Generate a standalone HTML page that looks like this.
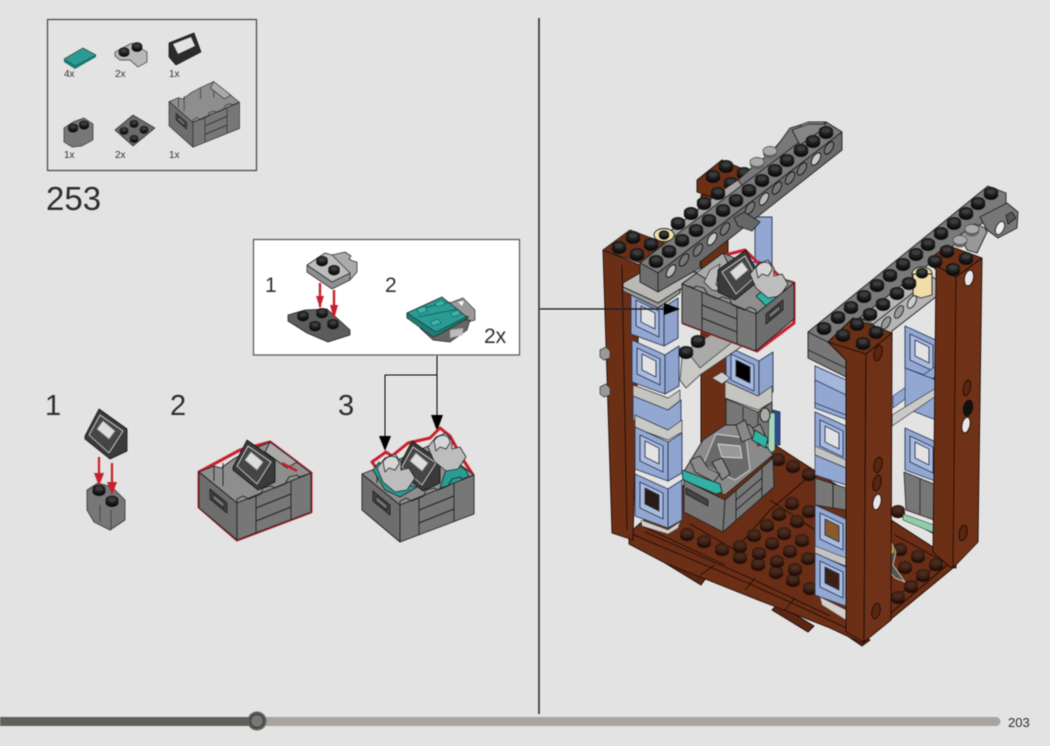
<!DOCTYPE html>
<html><head><meta charset="utf-8"><style>
html,body{margin:0;padding:0;background:#e3e3e3}
svg{display:block;font-family:"Liberation Sans",sans-serif;filter:blur(.45px)}
text{fill:#2d2d2d}
.t{font-size:10px;fill:#333}
.n{font-size:29px;font-weight:400}
.m{font-size:21px}
</style></head><body>
<svg width="1050" height="746" viewBox="0 0 1050 746" xmlns="http://www.w3.org/2000/svg" stroke-linejoin="round">
<defs>
<g id="st"><ellipse cy="2.5" rx="7.2" ry="5.4" fill="#0d0d0d"/><ellipse rx="7.2" ry="5" fill="#1d1d1d"/><ellipse cy="-.5" rx="4.5" ry="2.8" fill="#3a3a3a"/></g>
<g id="bs"><ellipse cy="3" rx="7" ry="5.2" fill="#241008"/><ellipse rx="7" ry="5" fill="#3a1f14"/><ellipse cy="-.5" rx="4.5" ry="2.8" fill="#4a2a1d"/></g>
<g id="ls"><ellipse cy="2.5" rx="7" ry="5" fill="#666"/><ellipse rx="7" ry="4.6" fill="#aaa" stroke="#444" stroke-width=".7"/></g>
<g id="bw" stroke="#2b3550" stroke-width=".9">
<path d="M0 0L33 15V54L0 42Z" fill="#92a8d2"/><path d="M33 15L47 6V46L33 54Z" fill="#8ea4cf"/>
<path d="M5 8L28 19V45L5 34Z" fill="#a9bce0"/><path d="M10 14L24 21V37L10 30Z" fill="currentColor"/>
</g>
<g id="cb" stroke="#222" stroke-width=".9">
<path d="M0 0L15-6 22-4 36-14 50-21 71-30 112 1 38 31Z" fill="#8e8e8e"/>
<path d="M15-6V9M24-9V14M50-21V-4M71-30V-6" fill="none"/>
<path d="M71-30L98-10 88-4 66-20Z" fill="#aaa"/>
</g>
<g id="cf" stroke="#222" stroke-width=".9">
<path d="M0 0L38 31V68L0 36Z" fill="#6d6d6d"/>
<path d="M38 31L112 1V40L38 68Z" fill="#777"/>
<path d="M57 23V61M92 9V47.5" fill="none"/>
<path d="M57 36L92 22M57 49L92 35" fill="none" stroke-width="1.1"/>
<path d="M38 31V27L44 24 50 27 62 22 64 16 72 14 76 16 86 12 90 5 98 3 100 5 112 1" fill="none"/>
<path d="M11 17L28 31V41L11 27Z" fill="#444"/><path d="M14 22L25 31V36L14 27Z" fill="#777"/>
</g>
<g id="hinge" stroke="#222" stroke-width=".8">
<path d="M0 10L8 0 18 -4 24 4 24 12 32 10 38 20 30 32 18 34 6 24Z" fill="#bdbdbd"/>
<path d="M6 4C10-4 22-4 22 6L18 12 12 10 8 14Z" fill="#d6d6d6"/>
</g>
<g id="slope" stroke="#111" stroke-width=".8">
<path d="M0 27L14 0 42 20V42L25 50 0 30Z" fill="#3a3a3a"/>
<path d="M4 26L15 6 38 22 24 44Z" fill="#454545" stroke="#ddd"/>
<path d="M12 20L18 12 30 22 24 30Z" fill="#ddd" stroke="#999"/>
</g>
</defs>
<rect width="1050" height="746" fill="#e3e3e3"/>

<!-- parts box -->
<rect x="47.5" y="19.5" width="209" height="151" fill="none" stroke="#444" stroke-width="1.2"/>
<path d="M64 59L83 48 96 55 75 66Z" fill="#2a9c94" stroke="#222" stroke-width=".6"/><path d="M64 59L75 66 96 55V57L75 69 64 62Z" fill="#1a7a73"/>
<path d="M115 52L132 43 147 52V62L138 67 130 60 120 60 115 56Z" fill="#b8b8b8" stroke="#333" stroke-width=".7"/>
<use href="#st" transform="translate(124 51) scale(.75)"/><use href="#st" transform="translate(137 46) scale(.75)"/>
<path d="M169 43L194 33 201 52 176 65 169 57Z" fill="#2b2b2b" stroke="#111" stroke-width=".7"/><path d="M173 44L191 37 195 46 178 54Z" fill="#e3e3e3"/>
<text class="t" x="64" y="77">4x</text><text class="t" x="115" y="77">2x</text><text class="t" x="169" y="77">1x</text>
<path d="M64 128L73 122 84 118 93 124V140L82 146 72 147 64 142Z" fill="#777" stroke="#333" stroke-width=".7"/>
<use href="#st" transform="translate(73 127) scale(.7)"/><use href="#st" transform="translate(84 124) scale(.7)"/>
<path d="M115 130L133 115 155 128 133 146Z" fill="#6a6a6a" stroke="#222" stroke-width=".7"/>
<use href="#st" transform="translate(124 130) scale(.6)"/><use href="#st" transform="translate(134 123) scale(.6)"/><use href="#st" transform="translate(134 138) scale(.6)"/><use href="#st" transform="translate(144 129) scale(.6)"/>
<g transform="translate(169 103) scale(.63 .67) translate(0 -2)"><use href="#cb"/><use href="#cf"/></g>
<text class="t" x="64" y="158">1x</text><text class="t" x="115" y="158">2x</text><text class="t" x="169" y="158">1x</text>
<text x="46" y="210" font-size="33">253</text>

<!-- callout -->
<rect x="253.5" y="239.5" width="266" height="115.5" fill="#fff" stroke="#555" stroke-width="1.2"/>
<text class="m" x="265" y="292" font-size="20">1</text><text class="m" x="385" y="292">2</text><text class="m" x="484" y="343">2x</text>
<path d="M288 315L305 310 327 309 350 330V335L328 342 307 333 288 321Z" fill="#5c5c5c" stroke="#222" stroke-width=".8"/>
<use href="#st" transform="translate(303 315) scale(.8)"/><use href="#st" transform="translate(322 312) scale(.8)"/><use href="#st" transform="translate(315 325) scale(.8)"/><use href="#st" transform="translate(333 323) scale(.8)"/>
<path d="M332 255L345 252 351 256 349 259 353 261 357 262V272L350 280 340 278Z" fill="#aaa" stroke="#333" stroke-width=".8"/>
<path d="M307 265V272L332 289 350 280V273L332 282Z" fill="#8f8f8f" stroke="#333" stroke-width=".8"/>
<path d="M307 265L325 253 332 255 350 273 332 282Z" fill="#bdbdbd" stroke="#333" stroke-width=".8"/>
<use href="#st" transform="translate(322 260) scale(.8)"/><use href="#st" transform="translate(334 269) scale(.8)"/>
<path d="M320 283V307M334 290V317" stroke="#c8202c" stroke-width="2.4"/><path d="M316 296H324L320 308ZM330 305H338L334 319Z" fill="#c8202c"/>
<path d="M450 303L463 298 475 310V320L468 322 455 312Z" fill="#999" stroke="#333" stroke-width=".7"/><path d="M458 302L464 301 462 306Z" fill="#fff"/>
<path d="M420 328L433 340 450 342 467 330 470 320 440 320Z" fill="#666" stroke="#222" stroke-width=".7"/><path d="M450 330L463 328V335L450 338Z" fill="#bbb"/>
<path d="M407 313L442 297 468 318 438 335 407 318Z" fill="#2a9c94" stroke="#222" stroke-width=".8"/>
<path d="M407 318L433 337 438 335 468 318V316L436 332 407 313Z" fill="#1d7d76" stroke="#222" stroke-width=".6"/>
<path d="M422 308L450 302M418 317L458 309" stroke="#155" stroke-width=".8" fill="none"/>
<path d="M417 309L425 306 427 311 419 314ZM435 303L443 300 445 304 437 307ZM430 322L438 319 441 323 433 326ZM450 313L458 310 461 314 453 317Z" fill="#3bb5a9" stroke="#155" stroke-width=".6"/>

<!-- connector arrows -->
<g fill="none">
<path d="M437 355V375M437 375H385V440M437 375V418" stroke="#fff" stroke-width="3"/>
<path d="M437 355V375M437 375H385V440M437 375V418" stroke="#111" stroke-width="1.3"/>
</g>
<path d="M379 436H391L385 451ZM431 415H443L437 431Z" fill="#000"/>

<!-- steps -->
<text class="n" x="45" y="415">1</text><text class="n" x="170" y="415">2</text><text class="n" x="338" y="415">3</text>
<path d="M87 490L98 483 112 487 125 500V520L110 530 94 522 87 510Z" fill="#777" stroke="#333" stroke-width=".8"/>
<path d="M100 505V522M111 510V530" stroke="#333" stroke-width=".7"/>
<use href="#st" transform="translate(99 489) scale(.9)"/><use href="#st" transform="translate(112 500) scale(.9)"/>
<use href="#slope" x="85" y="409"/>
<path d="M99 457V476M112 463V485" stroke="#c8202c" stroke-width="2.2"/><path d="M94 473H104L99 486ZM107 482H117L112 495Z" fill="#c8202c"/>

<g id="c2">
<path d="M199 472L240 450 270 442 311 473V512L237 540 199 507Z" fill="none" stroke="#c8202c" stroke-width="3"/>
<g transform="translate(199 472)"><use href="#cb"/></g>
<use href="#slope" x="233" y="440"/>
<g transform="translate(199 472)"><use href="#cf"/></g>
<path d="M282 463L297 471" stroke="#c8202c" stroke-width="2.5"/>
</g>
<g>
<path d="M372 462L386 452 392 456 408 443 430 438 440 428 450 436 462 458 473 475 400 500Z" fill="none" stroke="#c8202c" stroke-width="3"/>
<g transform="translate(362 474)"><use href="#cb"/></g>
<path d="M373 470L379 462 400 484 417 487 400 497 385 490Z" fill="#2a9c94" stroke="#222" stroke-width=".8"/>
<use href="#slope" x="398" y="441"/>
<path d="M448 460L466 470 470 480 440 488 446 470Z" fill="#2a9c94" stroke="#222" stroke-width=".8"/>
<use href="#hinge" x="377" y="458"/><use href="#hinge" x="428" y="437"/>
<g transform="translate(362 474)"><use href="#cf"/></g>
</g>

<!-- main divider -->
<path d="M539 18V714" stroke="#222" stroke-width="1.5"/>
<rect x="540" y="308" width="126" height="3" fill="#fff" opacity=".8"/>

<!-- floor -->
<g stroke="#1e0c05" stroke-width=".9">
<path d="M665 563L701 585 706 578 670 558ZM772 610L808 632 814 626 778 604ZM846 635L862 646 870 640 852 628Z" fill="#5a2611"/>
<path d="M629 533V544L665 563 753 598 830 628 862 643 953 568V560L862 630 750 580Z" fill="#6b2f16"/>
<path d="M629 533L701 470 775 445 953 560 864 636 750 584Z" fill="#6a2e16"/>
<path d="M645 532L750 578 830 616M640 525L725 565M690 524L735 550 770 510 805 480M770 500L815 530M715 565L700 575M755 578L745 590M795 598L785 610" fill="none"/>
<path d="M892 600L950 555M895 535L950 565M890 510L936 535" fill="none"/>
</g>
<g id="floor-studs">
<use href="#bs" x="687" y="533"/><use href="#bs" x="704" y="540"/><use href="#bs" x="722" y="548"/><use href="#bs" x="740" y="556"/><use href="#bs" x="758" y="563"/><use href="#bs" x="776" y="571"/><use href="#bs" x="793" y="579"/><use href="#bs" x="810" y="587"/>
<use href="#bs" x="740" y="545"/><use href="#bs" x="754" y="534"/><use href="#bs" x="767" y="524"/><use href="#bs" x="779" y="513"/><use href="#bs" x="792" y="502"/>
<use href="#bs" x="759" y="552"/><use href="#bs" x="772" y="542"/><use href="#bs" x="784" y="532"/><use href="#bs" x="797" y="520"/><use href="#bs" x="809" y="510"/>
<use href="#bs" x="777" y="560"/><use href="#bs" x="790" y="550"/><use href="#bs" x="802" y="539"/>
<use href="#bs" x="795" y="568"/><use href="#bs" x="808" y="557"/>
<use href="#bs" x="778" y="458"/><use href="#bs" x="793" y="465"/><use href="#bs" x="809" y="473"/>
<use href="#bs" x="898" y="510"/><use href="#bs" x="900" y="548"/><use href="#bs" x="918" y="555"/><use href="#bs" x="936" y="563"/><use href="#bs" x="905" y="566"/><use href="#bs" x="923" y="574"/><use href="#bs" x="911" y="585"/><use href="#bs" x="898" y="596"/>
</g>
<path d="M890 540L896 552 893 565 905 582 895 578 888 570Z" fill="#555" stroke="#ddd" stroke-width=".7"/><path d="M890 538L894 552 889 556Z" fill="#e9a92c"/>

<!-- rear-centre column -->
<g stroke="#1e0c05" stroke-width=".9">
<path d="M701 195H728V470L701 450Z" fill="#6b2f16"/>
<path d="M697 180L722 160 757 175 733 193 733 205 697 192Z" fill="#6b2f16"/>
</g>
<use href="#st" x="713" y="175"/><use href="#st" x="726" y="165"/><use href="#st" x="731" y="182"/><use href="#st" x="744" y="172"/>
<path d="M755 217H772V265H755Z" fill="#92a8d2" stroke="#2b3550" stroke-width=".9"/>
<path d="M738 262H760V285H738Z" fill="#92a8d2" stroke="#2b3550" stroke-width=".9"/>
<use href="#bw" x="726" y="346"/>
<path d="M725 381L758 396 772 386V402L758 410 725 398Z" fill="#c4c4c0" stroke="#333" stroke-width=".7"/>
<path d="M726 399L758 412 772 402V440L758 450 726 436Z" fill="#777" stroke="#222" stroke-width=".9"/><path d="M743 407V444M758 412V450" stroke="#222" stroke-width=".8"/>
<path d="M773 410L780 412V445L773 445Z" fill="#2f4b93" stroke="#15233f" stroke-width=".7"/>
<path d="M769 413H775V450L768 455Z" fill="#9fd8ba" stroke="#333" stroke-width=".6"/>
<ellipse cx="765" cy="415" rx="5" ry="7" fill="#aaa" stroke="#222"/>

<!-- left column back brown -->
<path d="M603 250L640 265 633 540 612 533Z" fill="#6b2f16" stroke="#1e0c05" stroke-width=".9"/>
<path d="M622 265L627 530" stroke="#1e0c05" stroke-width=".9"/>
<g fill="#999" stroke="#333" stroke-width=".7"><path d="M600 350L606 347 610 351V358L604 360 600 357Z"/><path d="M600 387L606 384 610 388V395L604 397 600 394Z"/></g>

<!-- lower crate -->
<g stroke="#222" stroke-width=".9">
<path d="M683 473L703 440 725 425 750 425 773 455 725 495Z" fill="#8a8a8a"/>
<path d="M703 465L716 434 746 438 750 470 735 480Z" fill="#6a6a6a" stroke="#ddd"/>
<path d="M718 444L740 446 742 458 722 457Z" fill="#999" stroke="#ddd"/>
<path d="M736 425L745 420 752 438 742 442ZM753 428L760 424 768 442 758 446Z" fill="#888"/>
<path d="M690 460L700 456 708 468 720 474 714 482 695 472ZM712 462L722 458 730 474 722 480Z" fill="#8a8a8a"/>
<path d="M682 470L720 484 722 492 716 494 683 480Z" fill="#2fb2a4"/>
<path d="M755 430L768 438 766 448 752 440Z" fill="#2fb2a4"/>
<path d="M684 480L725 500 723 532 684 512Z" fill="#777"/>
<path d="M725 500L773 458 774 487 723 532Z" fill="#777"/>
<path d="M686 488L708 500V506L686 494Z" fill="#444"/><path d="M736 490V521M762 468V497M736 500L762 478M736 510L762 488" fill="none"/>
</g>

<!-- left blue column -->
<g color="#e3e3e3"><use href="#bw" x="631" y="292"/><use href="#bw" x="632" y="340"/></g>
<path d="M682 358L745 335 748 342 722 360 700 375 686 388 680 380Z" fill="#c9c9c6" stroke="#333" stroke-width=".8"/>
<path d="M686 350L722 328 740 336 700 368Z" fill="#aaa" stroke="#333" stroke-width=".7"/>
<use href="#st" x="698" y="340"/><use href="#st" x="686" y="351"/>
<path d="M712 378L722 372 730 378 722 384Z" fill="#ccc" stroke="#333" stroke-width=".7"/>
<path d="M633 385L668 398 680 390V404L668 412 633 398Z" fill="#c4c4c0" stroke="#333" stroke-width=".7"/>
<path d="M633 396L668 410 681 400V424L668 434 633 420Z" fill="#92a8d2" stroke="#2b3550" stroke-width=".9"/>
<path d="M635 415L668 430 682 420V432L668 440 635 428Z" fill="#c9c9c6" stroke="#333" stroke-width=".7"/>
<use href="#bw" x="635" y="427" color="#e3e3e3"/>
<use href="#bw" x="635" y="474" color="#2a1a14"/>
<path d="M641 520L668 530 680 522 678 528 668 534 642 526Z" fill="#cfcfcb" stroke="#555" stroke-width=".5"/>

<!-- right rear blue -->
<g color="#e3e3e3"><use href="#bw" x="905" y="326"/><use href="#bw" x="905" y="428"/></g>
<path d="M893 396L936 366V376L893 408Z" fill="#92a8d2" stroke="#2b3550" stroke-width=".7"/>
<path d="M905 368L936 380V420L905 408Z" fill="#92a8d2" stroke="#2b3550" stroke-width=".7"/>
<path d="M892 415L936 388V396L892 426Z" fill="#c9c9c6" stroke="#333" stroke-width=".7"/>
<path d="M904 472L934 484V520L906 510Z" fill="#777" stroke="#222" stroke-width=".8"/><path d="M920 478V515" stroke="#222" stroke-width=".8"/>
<path d="M903 514L934 525V533L903 520Z" fill="#8ecfa8" stroke="#333" stroke-width=".6"/>

<!-- right front blue -->
<g color="#e3e3e3"><use href="#bw" x="815" y="366"/><use href="#bw" x="815" y="412"/></g>
<path d="M815 366L846 380 846 402 815 390Z" fill="#a3b6db" stroke="#2b3550" stroke-width=".7"/>
<path d="M815 380L846 395V415L815 403Z" fill="#92a8d2" stroke="#2b3550" stroke-width=".7"/>
<path d="M815 446L846 460V468L815 455Z" fill="#c4c4c0" stroke="#333" stroke-width=".6"/>
<path d="M815 455L846 468V485L815 475Z" fill="#92a8d2" stroke="#2b3550" stroke-width=".7"/>
<path d="M815 478L846 488V510L815 505Z" fill="#777" stroke="#222" stroke-width=".8"/><path d="M833 483V508" stroke="#222"/>
<use href="#bw" x="815" y="505" color="#8a5a2a"/>
<path d="M815 546L846 558V566L815 554Z" fill="#c4c4c0" stroke="#333" stroke-width=".6"/>
<use href="#bw" x="815" y="553" color="#3a1f14"/>
<path d="M820 597L846 610V620L822 605Z" fill="#d0d0cc" stroke="#555" stroke-width=".5"/>

<!-- right beam -->
<g stroke="#222" stroke-width=".9">
<path d="M808 332V358L846 377V356L828 342Z" fill="#777"/>
<path d="M808 350L846 368" fill="none"/>
<path d="M855 315L918 268 937 280V296L892 331 892 340 870 322Z" fill="#b5b5b5"/>
<path d="M872 325L932 278M872 325L855 315" fill="none"/>
<ellipse cx="886" cy="323" rx="3.5" ry="7" fill="#999" transform="rotate(30 886 323)"/>
<ellipse cx="899" cy="312" rx="3.5" ry="7" fill="#999" transform="rotate(30 899 312)"/>
<ellipse cx="912" cy="302" rx="3.500" ry="7" fill="#ccc" transform="rotate(30 912 302)"/>
<path d="M808 332L988 186 1006 193 1006 205 828 342Z" fill="#7a7a7a"/>
<path d="M980 217L1007 203 1018 212 1017 228 998 238 987 230Z" fill="#777"/>
<path d="M960 235L975 224 985 228 987 232 977 253 967 250Z" fill="#999"/>
<ellipse cx="1000" cy="228" rx="4" ry="7" fill="#eee" transform="rotate(25 1000 228)"/>
<path d="M1006 215L1012 212 1016 218 1008 224Z" fill="#555"/>
<ellipse cx="922" cy="274" rx="10" ry="7" fill="#f1e0ac"/>
<path d="M913 274V295L921 298 932 295V274Z" fill="#f0dea9"/>
</g>
<use href="#st" transform="translate(922 272) scale(.82)"/>
<use href="#ls" x="960" y="240"/><use href="#ls" x="972" y="229"/>

<!-- rear right brown column -->
<g stroke="#1e0c05" stroke-width=".9">
<path d="M928 261L956 277V568L950 567 933 552 936 270Z" fill="#6b2f16"/>
<path d="M956 277L982 258 978 542 953 568Z" fill="#6f3218"/>
<path d="M928 261L947 245 982 258 956 277Z" fill="#6b2f16"/>
<ellipse cx="969" cy="278" rx="4.500" ry="8" fill="#e6e6e6" transform="rotate(12 969 278)"/>
<ellipse cx="967" cy="388" rx="3.500" ry="8" fill="#5a2611" transform="rotate(12 967 388)"/>
<ellipse cx="968" cy="408" rx="4.500" ry="8" fill="#111" transform="rotate(12 968 408)"/>
<ellipse cx="966" cy="425" rx="4" ry="8" fill="#e6e6e6" transform="rotate(12 966 425)"/>
<ellipse cx="963" cy="533" rx="4" ry="8" fill="#5a2611" transform="rotate(12 963 533)"/>
</g>

<!-- front brown column -->
<g stroke="#1e0c05" stroke-width=".9">
<path d="M828 342L866 354 864 642 846 632 846 360Z" fill="#6b2f16"/>
<path d="M866 354L892 333 891 620 864 642Z" fill="#6f3218"/>
<path d="M828 342L853 318 892 333 866 354Z" fill="#6b2f16"/>
<ellipse cx="878" cy="353" rx="4" ry="8" fill="#5a2611" transform="rotate(12 878 353)"/>
<ellipse cx="878" cy="465" rx="4" ry="8" fill="#5a2611" transform="rotate(12 878 465)"/>
<ellipse cx="877" cy="483" rx="4" ry="8" fill="#5a2611" transform="rotate(12 877 483)"/>
<ellipse cx="877" cy="502" rx="4" ry="8" fill="#e6e6e6" transform="rotate(12 877 502)"/>
<ellipse cx="876" cy="611" rx="4" ry="8" fill="#5a2611" transform="rotate(12 876 611)"/>
</g>
<g><use href="#st" x="824" y="327"/><use href="#st" x="838" y="316"/><use href="#st" x="851" y="306"/><use href="#st" x="864" y="295"/><use href="#st" x="877" y="284"/><use href="#st" x="890" y="274"/><use href="#st" x="903" y="263"/><use href="#st" x="916" y="253"/><use href="#st" x="928" y="243"/><use href="#st" x="941" y="232"/><use href="#st" x="954" y="222"/><use href="#st" x="966" y="212"/><use href="#st" x="978" y="202"/><use href="#st" x="991" y="192"/>
<use href="#st" x="870" y="313"/><use href="#st" x="883" y="303"/><use href="#st" x="897" y="292"/><use href="#st" x="909" y="282"/>
<use href="#st" x="843" y="334"/><use href="#st" x="857" y="323"/><use href="#st" x="863" y="342"/><use href="#st" x="876" y="331"/>
<use href="#st" x="935" y="260"/><use href="#st" x="947" y="250"/><use href="#st" x="953" y="268"/><use href="#st" x="966" y="257"/></g>

<!-- left beam -->
<g stroke="#222" stroke-width=".9">
<path d="M623 283L640 273 700 272 680 290 658 303 623 287Z" fill="#b9b9b6"/>
<path d="M623 287V291L658 308 680 293V289L658 303Z" fill="#999"/>
<path d="M603 250L630 230 665 243 640 263Z" fill="#6b2f16"/>
<path d="M664 236L720 192 760 165 792 128 808 122 826 122 842 132 680 255Z" fill="#a6a6a6"/>
<path d="M738 180L757 163 772 152 780 142 790 128 800 125 810 135 745 190Z" fill="#787878"/>
<path d="M640 263L664 244 826 122 842 132 658 273Z" fill="#7b7b7b"/>
<path d="M640 263V282L658 292V273Z" fill="#6f6f6f"/>
<path d="M658 273L842 132V150L700 262 700 268 658 292Z" fill="#6b6b6b"/>
<path d="M792 130L808 124 825 124 826 127 800 145Z" fill="#868686"/>
<g fill="#777" stroke="#111">
<ellipse cx="671" cy="271" rx="3.500" ry="7" transform="rotate(32 671 271)" fill="#bbb"/>
<ellipse cx="684" cy="260" rx="3.500" ry="7" transform="rotate(32 684 260)"/>
<ellipse cx="698" cy="250" rx="3.500" ry="7" transform="rotate(32 698 250)"/>
<ellipse cx="712" cy="239" rx="3.500" ry="7" transform="rotate(32 712 239)" fill="#ccc"/>
<ellipse cx="725" cy="229" rx="3.500" ry="7" transform="rotate(32 725 229)"/>
<ellipse cx="750" cy="208" rx="3.500" ry="7" transform="rotate(32 750 208)"/>
<ellipse cx="764" cy="199" rx="3.500" ry="7" transform="rotate(32 764 199)" fill="#bbb"/>
<ellipse cx="777" cy="188" rx="3.500" ry="7" transform="rotate(32 777 188)"/>
<ellipse cx="790" cy="178" rx="3.500" ry="7" transform="rotate(32 790 178)"/>
<ellipse cx="802" cy="169" rx="3.500" ry="7" transform="rotate(32 802 169)"/>
<ellipse cx="816" cy="159" rx="3.500" ry="7" transform="rotate(32 816 159)" fill="#ccc"/>
<ellipse cx="829" cy="148" rx="3.500" ry="7" transform="rotate(32 829 148)"/>
</g>
<path d="M734 218L744 212 760 222 752 231 738 226Z" fill="#666"/>
<ellipse cx="664" cy="235" rx="10" ry="6.500" fill="#efdfaa"/>
</g>
<use href="#st" transform="translate(664 234) scale(.72)"/>
<use href="#ls" x="757" y="162"/><use href="#ls" x="770" y="151"/>
<g><use href="#st" x="619" y="246"/><use href="#st" x="633" y="236"/><use href="#st" x="637" y="253"/><use href="#st" x="651" y="243"/>
<use href="#st" x="656" y="260"/><use href="#st" x="669" y="250"/><use href="#st" x="682" y="239"/><use href="#st" x="696" y="229"/><use href="#st" x="709" y="219"/><use href="#st" x="723" y="209"/><use href="#st" x="736" y="199"/><use href="#st" x="749" y="189"/><use href="#st" x="762" y="179"/><use href="#st" x="775" y="169"/><use href="#st" x="787" y="159"/><use href="#st" x="801" y="149"/><use href="#st" x="813" y="140"/><use href="#st" x="826" y="131"/>
<use href="#st" x="678" y="222"/><use href="#st" x="691" y="212"/><use href="#st" x="704" y="202"/><use href="#st" x="718" y="192"/></g>

<!-- top crate -->
<path d="M683 284L704 270 725 255 745 250 757 262 768 265 783 280 794 283V323L757 351 683 323Z" fill="none" stroke="#c8202c" stroke-width="3"/>
<g transform="translate(794 283) scale(-1 1)"><use href="#cb"/></g>
<path d="M704 282L710 270 720 264 716 285 725 292 712 290Z" fill="#bbb" stroke="#222" stroke-width=".7"/>
<g transform="translate(760 250) scale(-1 1)"><use href="#slope"/></g>
<path d="M756 296L770 285 784 288 788 292 766 306Z" fill="#2fb2a4" stroke="#222" stroke-width=".8"/>
<use href="#hinge" x="750" y="264"/>
<g transform="translate(794 283) scale(-1 1)"><use href="#cf"/></g>
<path d="M540 309H664" stroke="#222" stroke-width="1.4"/>
<path d="M664 303V315L680 309Z" fill="#000"/>

<!-- progress -->
<rect x="250" y="717" width="750.500" height="9" rx="4.500" fill="#a9a49e"/>
<rect x="0" y="717" width="258" height="9" fill="#60605a"/>
<circle cx="257" cy="721" r="9.500" fill="#5f5f5a"/>
<circle cx="257" cy="721" r="6.500" fill="#777" stroke="#333" stroke-width="1"/>
<text x="1008" y="727" font-size="13">203</text>
</svg>
</body></html>
